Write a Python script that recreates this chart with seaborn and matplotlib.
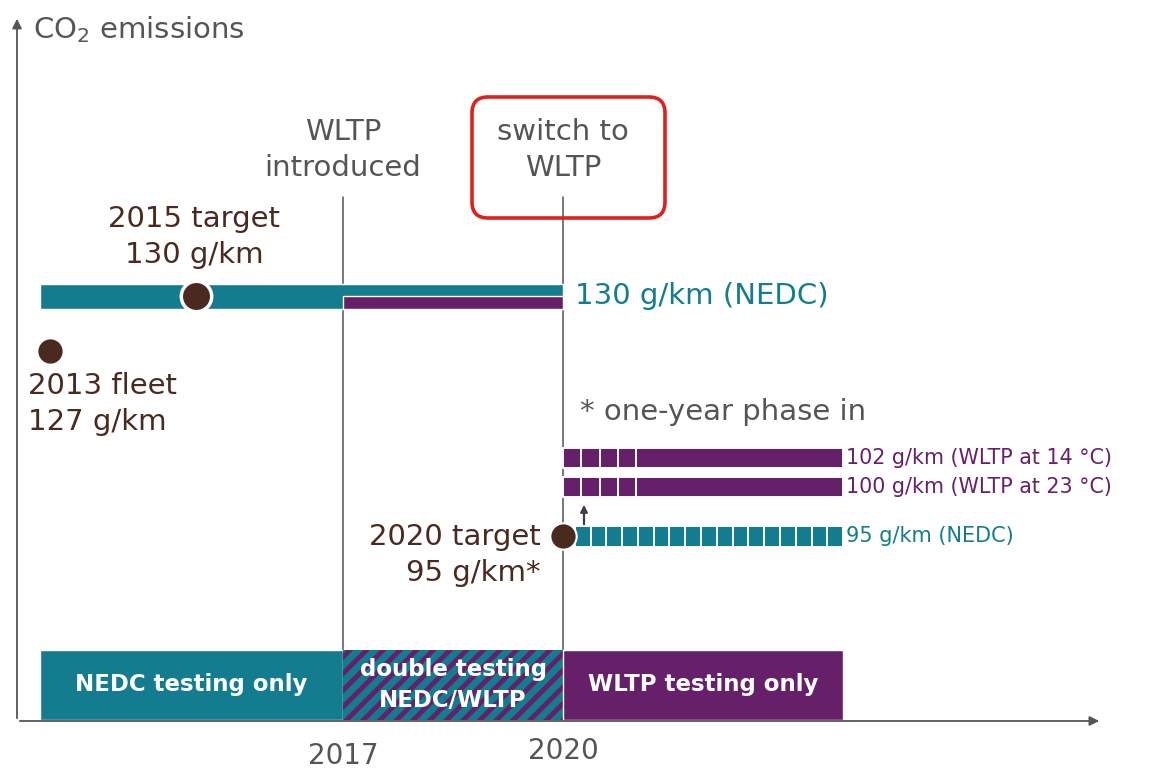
import numpy as np
import seaborn as sns
import matplotlib.pyplot as plt
from matplotlib.patches import FancyBboxPatch
from matplotlib.transforms import IdentityTransform

# values
milestone_years = [2017, 2020]
milestone_labels = ["WLTP\nintroduced", "switch to\nWLTP"]
target_years = [2015, 2013, 2020]
target_values = [130, 127, 95]
target_labels = ["2015 target\n130 g/km", "2013 fleet\n127 g/km", "2020 target\n95 g/km*"]
wltp_values = [102, 100]
wltp_labels = ["102 g/km (WLTP at 14 °C)", "100 g/km (WLTP at 23 °C)"]
nedc_label_2020 = "95 g/km (NEDC)"
nedc_label_2015 = "130 g/km (NEDC)"
phase_labels = ["NEDC testing only", "double testing\nNEDC/WLTP", "WLTP testing only"]
start_year, end_year = 2012.87, 2023.82

TEAL = "#137d8f"
PURPLE = "#66206a"
BROWN = "#4a2a1f"
GREY = "#555555"

sns.set_theme(style="white")
plt.rcParams["font.family"] = ["DejaVu Sans"]
plt.rcParams["hatch.linewidth"] = 3.5

fig = plt.figure(figsize=(11.5, 7.71), dpi=100)
ax = fig.add_axes([0, 0, 1, 1])

# schematic layout: x in years, y in rows (pixel-like, top = 0)
px_per_year = 220 / 3
def yr(px):
    return 2017 + (px - 343) / px_per_year

ax.set_xlim(yr(0), yr(1150))
ax.set_ylim(771, 0)
ax.axis("off")

row_y = {130: 296, 127: 351, 102: 458, 100: 487, 95: 536}
BIG = 21
LS = 1.35

# axes arrows
arrow = dict(arrowstyle="-|>", color=GREY, lw=1.3, mutation_scale=14)
ax.annotate("", xy=(yr(17), 16), xytext=(yr(17), 721), arrowprops=arrow)
ax.annotate("", xy=(yr(1102), 721), xytext=(yr(17), 721), arrowprops=arrow)
ax.text(yr(33), 30, "CO$_2$ emissions", fontsize=21, color=GREY, va="center")

# milestone lines and labels
for yv in milestone_years:
    ax.plot([yv, yv], [197, 650], color=GREY, lw=1.1, zorder=1)
    ax.text(yv, 756 if yv == 2017 else 751, str(yv), fontsize=20, color=GREY,
            ha="center", va="center")
for yv, lab in zip(milestone_years, milestone_labels):
    ax.text(yv, 150, lab, fontsize=BIG, color=GREY, ha="center", va="center",
            linespacing=LS)
# red rounded frame around "switch to WLTP" (drawn in pixels)
frame = FancyBboxPatch((472, 771 - 218), 193, 121,
                       boxstyle="round,pad=0,rounding_size=16",
                       fc="none", ec="#e0201b", lw=2.6,
                       transform=IdentityTransform())
ax.add_artist(frame)

# 2015 target bar (NEDC then NEDC/WLTP)
ax.barh(row_y[130], milestone_years[1] - start_year, left=start_year,
        height=25, color=TEAL, zorder=2)
ax.barh(row_y[130] + 6, milestone_years[1] - milestone_years[0],
        left=milestone_years[0], height=13, color=PURPLE, zorder=2)
ax.text(yr(575), row_y[130], nedc_label_2015, fontsize=BIG, color=TEAL,
        va="center")

# WLTP bars with one-year phase-in (quarters)
lefts = [2020, 2020.25, 2020.5, 2020.75, 2021]
widths = [0.25, 0.25, 0.25, 0.25, end_year - 2021]
for val, lab in zip(wltp_values, wltp_labels):
    ax.barh([row_y[val]] * len(lefts), widths, left=lefts, height=20,
            color=PURPLE, edgecolor="white", linewidth=1.4, zorder=2)
    ax.text(end_year + 0.04, row_y[val], lab, fontsize=14.9, color=PURPLE,
            va="center")
ax.text(yr(580), 412, "* one-year phase in", fontsize=BIG, color=GREY,
        va="center")

# 2020 NEDC target dashed bar
edges = np.linspace(2020.16, end_year, 18)
ax.barh([row_y[95]] * 17, np.diff(edges), left=edges[:-1], height=21,
        color=TEAL, edgecolor="white", linewidth=1.4, zorder=2)
ax.text(end_year + 0.04, row_y[95], nedc_label_2020, fontsize=15,
        color=TEAL, va="center")
ax.annotate("", xy=(yr(584), 502), xytext=(yr(584), 527),
            arrowprops=dict(arrowstyle="-|>", color="#3c3c4a", lw=1.6,
                            mutation_scale=10), zorder=4)

# target dots
sns.scatterplot(x=target_years[:1], y=[row_y[target_values[0]]], s=480,
                color=BROWN, edgecolor="white", linewidth=2.5, zorder=5, ax=ax)
sns.scatterplot(x=target_years[1:], y=[row_y[v] for v in target_values[1:]],
                s=360, color=BROWN, edgecolor="white", linewidth=1.5,
                zorder=5, ax=ax)
ax.text(yr(194), 237, target_labels[0], fontsize=BIG, color=BROWN,
        ha="center", va="center", linespacing=LS)
ax.text(yr(28), 404, target_labels[1], fontsize=BIG, color=BROWN,
        ha="left", va="center", linespacing=LS)
ax.text(yr(541), 555, target_labels[2], fontsize=BIG, color=BROWN,
        ha="right", va="center", linespacing=LS)

# testing regime bars
ax.barh(685, milestone_years[0] - start_year, left=start_year, height=70,
        color=TEAL, zorder=2)
ax.barh(685, milestone_years[1] - milestone_years[0], left=milestone_years[0],
        height=70, color=TEAL, edgecolor=PURPLE, hatch="//", linewidth=0,
        zorder=2)
ax.barh(685, end_year - milestone_years[1], left=milestone_years[1],
        height=70, color=PURPLE, zorder=2)
centers = [(start_year + 2017) / 2, 2018.5, (2020 + end_year) / 2]
for c, lab in zip(centers, phase_labels):
    ax.text(c, 685, lab, fontsize=16.5, color="white", fontweight="bold",
            ha="center", va="center", linespacing=1.45, zorder=6)

fig.savefig("out.png", dpi=100)
